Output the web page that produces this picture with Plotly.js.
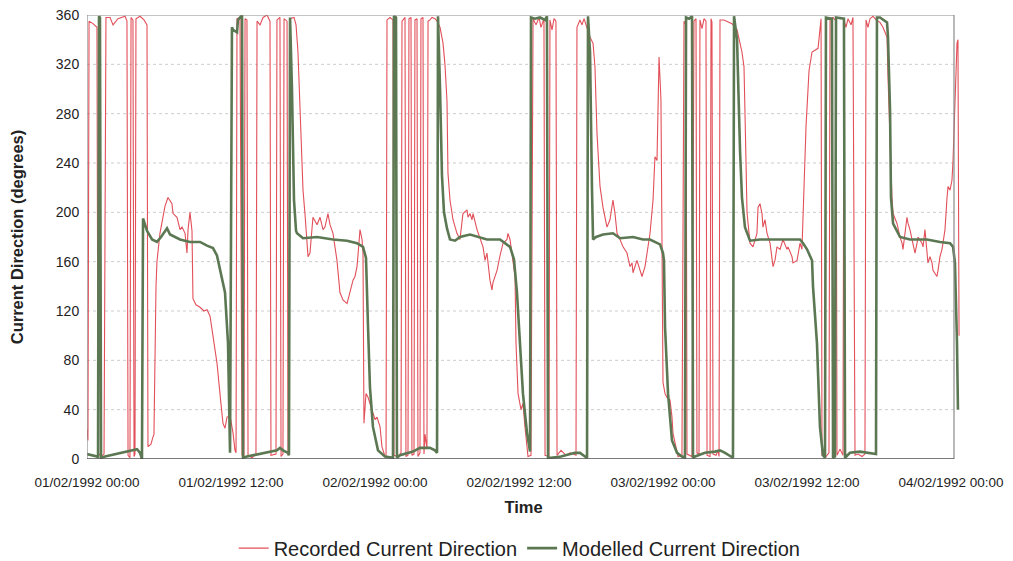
<!DOCTYPE html>
<html>
<head>
<meta charset="utf-8">
<script src="https://cdn.plot.ly/plotly-3.0.1.min.js"></script>
<style>html,body{margin:0;padding:0;background:#fff;}#chart{width:1013px;height:561px;}</style>
</head>
<body>
<div id="chart"></div>
<script>
// Time axis: hours after 01/02/1992 00:00
const startDate = Date.UTC(1992, 1, 1, 0, 0, 0);

// Recorded current direction (degrees)
const recordedHours = [0.00,0.08,0.17,0.50,0.83,0.92,1.17,1.42,1.58,1.92,2.17,2.58,3.17,3.33,3.42,3.58,3.67,3.83,3.92,4.00,4.08,4.42,4.75,5.00,5.08,5.33,5.50,5.58,5.75,5.83,6.08,6.50,6.75,7.08,7.17,7.50,7.75,7.92,8.17,8.33,8.42,8.58,8.75,8.83,9.08,9.42,9.75,10.00,10.25,10.50,10.83,11.08,11.33,11.50,11.67,11.92,12.17,12.33,12.42,12.50,12.75,12.92,13.08,13.17,13.33,13.42,13.75,14.08,14.17,14.42,14.67,15.00,15.25,15.33,15.75,15.83,16.08,16.17,16.33,16.42,16.67,16.75,16.83,16.92,17.25,17.42,17.58,17.75,17.92,18.00,18.17,18.33,18.42,18.58,18.75,18.83,19.17,19.42,19.67,19.83,20.08,20.25,20.50,20.67,20.83,21.08,21.33,21.67,21.92,22.17,22.33,22.50,22.58,22.75,22.92,23.00,23.08,23.25,23.42,23.75,24.00,24.17,24.42,24.58,24.83,24.92,25.00,25.25,25.50,25.58,25.92,26.17,26.25,26.50,26.58,26.75,26.83,27.00,27.08,27.25,27.33,27.50,27.58,27.75,27.83,28.00,28.08,28.17,28.33,28.42,28.58,28.75,29.00,29.17,29.42,29.67,29.83,30.00,30.08,30.25,30.42,30.50,30.83,31.08,31.33,31.67,31.75,31.92,32.08,32.17,32.50,32.75,33.00,33.17,33.33,33.58,33.75,33.83,34.17,34.42,34.67,35.00,35.08,35.25,35.42,35.67,35.75,35.92,36.17,36.33,36.50,36.75,37.00,37.17,37.42,37.67,37.83,38.08,38.17,38.50,38.58,38.75,38.92,39.08,39.17,39.50,39.92,40.25,40.75,40.83,41.08,41.25,41.42,41.67,41.92,42.17,42.33,42.50,42.75,43.00,43.33,43.58,43.83,44.00,44.17,44.42,44.67,45.00,45.25,45.42,45.50,45.83,46.08,46.25,46.50,46.75,46.92,47.17,47.33,47.50,47.58,47.67,47.83,47.92,48.00,48.17,48.33,48.58,48.75,48.83,49.17,49.25,49.58,49.75,49.92,50.00,50.42,50.58,50.75,50.83,51.00,51.08,51.25,51.42,51.58,51.67,51.92,52.00,52.08,52.17,52.42,52.58,52.67,52.75,53.08,53.50,53.75,54.17,54.42,54.58,54.75,54.83,54.92,55.00,55.25,55.50,55.83,55.92,56.08,56.25,56.33,56.50,56.67,56.92,57.08,57.17,57.33,57.50,57.75,58.00,58.33,58.42,58.75,58.83,59.17,59.42,59.58,59.75,59.92,60.17,60.42,60.92,61.08,61.17,61.25,61.58,61.83,61.92,62.17,62.42,62.50,62.75,63.00,63.08,63.25,63.42,63.67,63.83,64.00,64.25,64.58,64.83,64.92,65.08,65.25,65.50,65.75,66.08,66.33,66.67,66.75,66.92,67.08,67.17,67.50,67.75,67.92,68.00,68.17,68.33,68.42,68.58,68.75,68.83,69.00,69.17,69.25,69.58,69.67,69.83,70.00,70.08,70.25,70.42,70.50,70.83,70.92,71.08,71.25,71.33,71.50,71.67,71.75,71.92,72.08,72.17,72.33,72.50,72.58,72.67];
const recordedDir = [24,15,355,353,350,5,2,4,358,358,352,357,359,355,3,1,358,356,2,4,357,359,356,352,10,12,18,20,140,160,183,205,212,207,199,196,186,188,183,167,186,200,185,130,125,123,120,121,116,99,78,53,29,25,34,35,21,7,5,357,358,3,2,357,356,3,1,4,355,352,358,360,355,3,4,356,358,2,4,357,355,3,5,357,358,352,330,285,245,218,198,178,164,167,190,196,190,196,186,188,199,190,183,172,161,135,129,126,135,145,148,156,165,186,178,167,29,53,50,40,32,34,26,10,2,2,356,358,356,3,2,5,355,358,2,3,357,358,3,4,356,357,2,5,357,358,4,20,8,355,356,358,357,355,350,337,320,290,232,210,199,194,183,178,199,202,196,199,194,199,186,178,172,161,167,145,137,143,153,165,175,178,183,178,167,148,94,53,40,45,26,2,3,357,352,358,350,357,3,2,356,348,357,355,3,7,3,5,3,350,356,352,357,350,342,337,318,264,221,204,188,194,210,199,183,178,172,167,156,159,151,161,153,148,156,170,183,210,245,242,291,326,291,156,62,53,50,48,34,21,5,2,3,355,352,4,2,355,357,5,4,356,349,357,355,3,2,357,354,4,3,7,2,356,356,354,353,348,337,330,318,290,240,200,175,172,183,204,207,199,188,194,183,175,164,156,161,172,170,178,170,172,164,159,161,175,170,215,270,315,330,333,350,357,3,2,5,357,358,355,3,8,3,356,350,357,352,358,3,4,2,4,356,350,357,359,356,354,350,342,310,256,212,199,191,180,175,170,186,196,191,186,178,175,167,175,180,175,172,186,170,159,164,159,153,148,153,164,170,175,186,212,221,218,226,242,283,337,340,100];

// Modelled current direction (degrees)
const modelledHours = [0.00,0.42,0.83,0.92,1.00,1.08,1.17,1.50,1.92,2.75,3.58,4.17,4.42,4.58,4.67,5.00,5.42,5.83,6.17,6.67,6.92,7.33,7.75,8.58,9.42,10.00,10.50,10.83,11.08,11.50,11.75,11.83,11.92,12.08,12.17,12.50,12.58,12.92,13.00,13.33,13.83,15.00,15.83,16.08,16.33,16.75,16.83,16.92,17.08,17.25,17.42,17.50,18.00,19.17,20.50,21.67,22.50,23.00,23.25,23.42,23.58,23.83,24.25,24.83,25.50,25.58,25.75,25.83,26.08,27.17,27.75,28.58,29.00,29.17,29.25,29.42,29.58,29.75,30.00,30.25,30.67,31.08,31.92,33.33,34.42,35.25,35.58,35.83,36.08,36.33,36.67,36.92,37.00,37.33,37.75,38.17,38.33,38.42,38.67,39.50,40.67,41.08,41.50,41.67,41.75,41.92,42.08,42.17,42.42,43.00,43.83,44.42,45.50,46.33,46.92,47.75,48.00,48.08,48.17,48.42,48.75,49.17,49.58,49.83,49.92,50.17,50.42,50.50,50.67,51.50,52.33,52.75,53.17,53.75,53.83,53.92,54.17,54.42,54.58,54.83,55.25,56.08,58.33,59.42,59.67,60.00,60.42,60.50,60.83,61.08,61.33,61.50,61.58,62.08,62.17,62.33,62.42,63.08,63.17,63.58,64.42,65.25,65.75,65.83,66.08,66.67,66.75,66.92,67.00,67.17,67.75,68.58,70.00,71.08,71.92,72.17,72.33,72.50,72.58];
const modelledDir = [4,3,2,1,359,358,1,2,3,5,7,8,5,0,195,185,178,176,180,187,182,180,178,176,176,173,171,165,153,135,94,53,5,350,348,346,356,360,1,2,3,5,7,9,7,5,3,358,300,210,185,183,179,180,178,177,175,172,163,107,58,26,7,2,1,359,358,1,3,6,9,9,7,5,359,300,230,200,187,178,177,180,182,178,178,172,162,135,94,53,21,6,358,357,358,356,359,1,1,2,5,5,2,1,359,330,220,178,180,182,183,179,180,178,178,174,167,161,107,53,15,5,2,1,358,357,359,1,2,5,6,7,5,2,1,359,340,250,212,188,177,178,178,178,175,170,161,140,94,26,3,1,358,357,1,2,358,357,1,5,6,5,4,358,358,354,342,283,212,191,180,178,178,176,175,172,159,94,40];

// Axis ticks
const yTicks = [0,40,80,120,160,200,240,280,320,360];
const xTickHours = [0,12,24,36,48,60,72];
const frameEndHours = 72.25;
const rangeEndHours = 72.75;

function toDate(h) {
  return new Date(startDate + h * 3600000).toISOString().slice(0, 19).replace('T', ' ');
}

const FONT = 'Arial, "Liberation Sans", sans-serif';

const traces = [
  {
    x: recordedHours.map(toDate), y: recordedDir,
    type: 'scatter', mode: 'lines', name: 'Recorded Current Direction',
    line: {color: '#e2505a', width: 1.1}
  },
  {
    x: modelledHours.map(toDate), y: modelledDir,
    type: 'scatter', mode: 'lines', name: 'Modelled Current Direction',
    line: {color: '#5c7853', width: 2.6}
  }
];

const shapes = yTicks.filter(v => v > 0 && v < 360).map(v => ({
  type: 'line', xref: 'x', yref: 'y', layer: 'below',
  x0: toDate(0), x1: toDate(frameEndHours), y0: v, y1: v,
  line: {color: '#cdcdcd', width: 1, dash: 'dot'}
}));
shapes.push({
  type: 'rect', xref: 'x', yref: 'y', layer: 'above',
  x0: toDate(0), x1: toDate(frameEndHours), y0: 0, y1: 360,
  line: {color: '#8a8a8a', width: 1.2}
});
shapes.push({
  type: 'line', xref: 'x', yref: 'y', layer: 'above',
  x0: toDate(0), x1: toDate(frameEndHours), y0: 0, y1: 0,
  line: {color: '#333', width: 1.2}
});

const layout = {
  width: 1013, height: 561,
  margin: {l: 87, r: 53, t: 15, b: 102},
  paper_bgcolor: '#fff', plot_bgcolor: '#fff',
  font: {family: FONT, color: '#222', size: 12},
  showlegend: true,
  legend: {
    orientation: 'h', xref: 'container', yref: 'container',
    x: 0.513, xanchor: 'center', y: 0.023, yanchor: 'middle',
    font: {family: FONT, size: 20, color: '#222'}, itemwidth: 30, traceorder: 'normal'
  },
  xaxis: {
    type: 'date', automargin: false,
    range: [toDate(0), toDate(rangeEndHours)],
    tickvals: xTickHours.map(toDate),
    tickformat: '%d/%m/%Y %H:%M',
    tickfont: {family: FONT, size: 13.5, color: '#222'},
    showgrid: false, zeroline: false, showline: false,
    ticks: 'outside', ticklen: 11, tickcolor: 'rgba(0,0,0,0)',
    title: {text: '<b>Time</b>', font: {family: FONT, size: 16.5, color: '#222'}, standoff: 12}
  },
  yaxis: {
    range: [0, 360], tickvals: yTicks, automargin: false,
    tickfont: {family: FONT, size: 14, color: '#222'},
    showgrid: false, zeroline: false, showline: false,
    ticks: 'outside', ticklen: 4, tickcolor: 'rgba(0,0,0,0)',
    title: {text: '<b>Current Direction (degrees)</b>', font: {family: FONT, size: 16.5, color: '#222'}, standoff: 28}
  },
  shapes: shapes
};

Plotly.newPlot('chart', traces, layout, {displayModeBar: false, staticPlot: true});
</script>
</body>
</html>
